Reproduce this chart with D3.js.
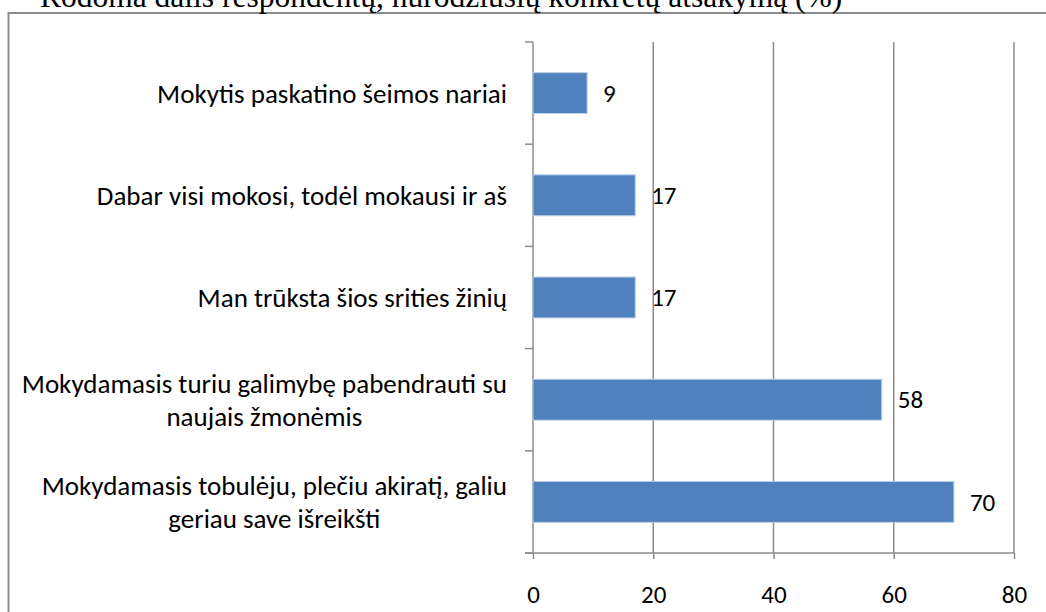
<!DOCTYPE html>
<html>
<head>
<meta charset="utf-8">
<script src="https://cdn.jsdelivr.net/npm/d3@7"></script>
<style>
  body { margin: 0; background: #fff; }
</style>
</head>
<body>
<div id="chart"></div>
<script>
const categories = [
    "Mokytis paskatino šeimos nariai",
    "Dabar visi mokosi, todėl mokausi ir aš",
    "Man trūksta šios srities žinių",
    "Mokydamasis turiu galimybę pabendrauti su|naujais žmonėmis",
    "Mokydamasis tobulėju, plečiu akiratį, galiu|geriau save išreikšti"
];
const values = [9, 17, 17, 58, 70];
const xTicks = [0, 20, 40, 60, 80];
const title = "Rodoma dalis respondentų, nurodžiusių konkretų atsakymą (%)";

const W = 1046, H = 612;
const svg = d3.select("#chart").append("svg")
    .attr("width", W)
    .attr("height", H);

// outer frame (runs off the right and bottom edges)
svg.append("rect")
    .attr("x", 8.5).attr("y", 13)
    .attr("width", 1100).attr("height", 700)
    .attr("fill", "none")
    .attr("stroke", "#8c8c8c")
    .attr("stroke-width", 2);

// title is cut off by the top edge, as in the source
svg.append("text")
    .attr("x", 40)
    .attr("y", 7)
    .style("font-family", "'Liberation Serif', 'Times New Roman', serif")
    .style("font-size", "31.5px")
    .text(title);

const pLeft = 533, pRight = 1014, pTop = 42, pBottom = 553;

const x = d3.scaleLinear().domain([0, 80]).range([pLeft, pRight]);
const y = d3.scaleBand().domain(categories).range([pTop, pBottom]).paddingInner(0.6).paddingOuter(0.3);

const font = "Calibri, Carlito, Lato, sans-serif";

// vertical gridlines
svg.append("g")
    .selectAll("line")
    .data(xTicks.slice(1))
    .join("line")
    .attr("x1", d => x(d)).attr("x2", d => x(d))
    .attr("y1", pTop).attr("y2", pBottom)
    .attr("stroke", "#8c8c8c")
    .attr("stroke-width", 1.5);

// bottom axis
const xAxis = svg.append("g")
    .attr("transform", `translate(0,${pBottom})`)
    .call(d3.axisBottom(x).tickValues(xTicks).tickSize(6).tickPadding(26));
xAxis.select(".domain").attr("stroke", "#8c8c8c").attr("stroke-width", 1.5)
    .attr("d", `M${pLeft - 8},0H${pRight}`);
xAxis.selectAll(".tick line").attr("stroke", "#8c8c8c").attr("stroke-width", 1.5);
xAxis.selectAll(".tick text")
    .style("font-family", font)
    .style("font-size", "25px")
    .attr("fill", "#000");

// category axis line + ticks between bands
const bandEdges = d3.range(categories.length + 1).map(i => pTop + i * (pBottom - pTop) / categories.length);
svg.append("line")
    .attr("x1", pLeft).attr("x2", pLeft)
    .attr("y1", pTop).attr("y2", pBottom)
    .attr("stroke", "#8c8c8c").attr("stroke-width", 1.5);
svg.append("g").selectAll("line")
    .data(bandEdges)
    .join("line")
    .attr("x1", pLeft - 8).attr("x2", pLeft)
    .attr("y1", d => d).attr("y2", d => d)
    .attr("stroke", "#8c8c8c").attr("stroke-width", 1.5);

// bars
svg.append("g").selectAll("rect")
    .data(values)
    .join("rect")
    .attr("x", x(0))
    .attr("y", (d, i) => y(categories[i]))
    .attr("width", d => x(d) - x(0))
    .attr("height", y.bandwidth())
    .attr("fill", "#4f81bd")
    .attr("stroke", "#b9cde5")
    .attr("stroke-width", 1);

// value labels
svg.append("g").selectAll("text")
    .data(values)
    .join("text")
    .attr("x", d => x(d) + 16)
    .attr("y", (d, i) => y(categories[i]) + y.bandwidth() / 2)
    .attr("dy", "0.35em")
    .style("font-family", font)
    .style("font-size", "25px")
    .text(d => d);

// category labels (wrapped lines centred on each other, right-aligned block)
const labelRight = 507;
const lineH = 33;
categories.forEach(c => {
    const lines = c.split("|");
    const cy = y(c) + y.bandwidth() / 2;
    const g = svg.append("g");
    const texts = lines.map((ln, i) => g.append("text")
        .attr("y", cy + (i - (lines.length - 1) / 2) * lineH)
        .attr("dy", "0.35em")
        .attr("text-anchor", "middle")
        .style("font-family", font)
        .style("font-size", "27px")
        .text(ln));
    const maxW = d3.max(texts, t => t.node().getComputedTextLength());
    texts.forEach(t => t.attr("x", labelRight - maxW / 2));
});
</script>
</body>
</html>
